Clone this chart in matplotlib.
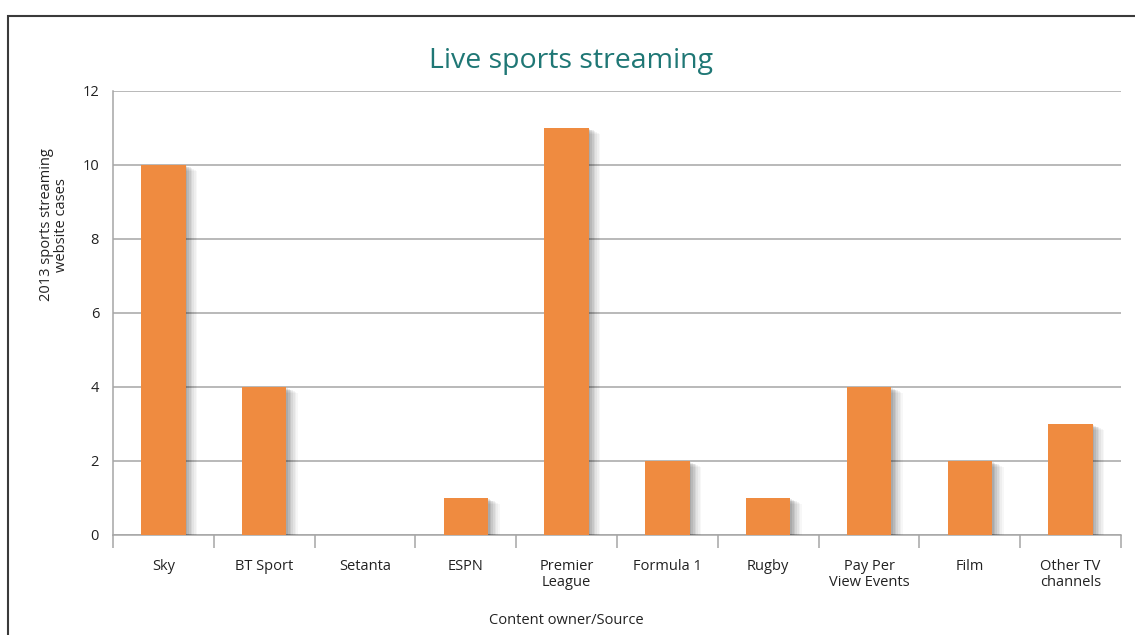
import matplotlib
matplotlib.use("Agg")
import matplotlib.pyplot as plt
import matplotlib.patheffects as pe
from matplotlib.patches import Rectangle

categories = ["Sky", "BT Sport", "Setanta", "ESPN", "Premier\nLeague", "Formula 1",
              "Rugby", "Pay Per\nView Events", "Film", "Other TV\nchannels"]
values = [10, 4, 0, 1, 11, 2, 1, 4, 2, 3]
yticks = [0, 2, 4, 6, 8, 10, 12]

plt.rcParams['font.family'] = ['Open Sans', 'DejaVu Sans']

fig = plt.figure(figsize=(11.35, 6.35), dpi=100)
W, H = 1135, 635
ax = fig.add_axes([113 / W, 1 - 535 / H, (1121 - 113) / W, (535 - 91) / H])

# outer frame
fig.patches.append(Rectangle((8 / W, -0.1), 1.2, 1 - 16 / H + 0.1, transform=fig.transFigure,
                             fill=False, edgecolor='#3a3a3a', linewidth=1.5, zorder=0))

x = list(range(len(categories)))
shadow = []
for d, a in [(14, 0.03), (12, 0.035), (10, 0.045), (8, 0.055), (6, 0.065), (4, 0.075), (2, 0.08)]:
    shadow.append(pe.SimplePatchShadow(offset=(d * 0.6, -d * 0.3), shadow_rgbFace='black', alpha=a))
shadow.append(pe.Normal())
bars = ax.bar(x, values, width=0.44, color='#ef8b40', zorder=3)
for b in bars:
    b.set_path_effects(shadow)

ax.set_xlim(-0.5, len(categories) - 0.5)
ax.set_ylim(0, 12)
ax.set_yticks(yticks)
ax.set_yticklabels([str(v) for v in yticks], fontsize=10.5, color='#222222')
ax.tick_params(axis='y', length=0, pad=10)
ax.yaxis.grid(True, color='#a6a6a6', linewidth=1.1, zorder=0)
ax.set_axisbelow(True)

ax.set_xticks(x)
ax.set_xticklabels(categories, fontsize=10.5, color='#222222', linespacing=1.1)
ax.tick_params(axis='x', length=0, pad=17)
ax.set_xticks([i - 0.5 for i in range(len(categories) + 1)], minor=True)
ax.tick_params(axis='x', which='minor', length=9, width=1.1, color='#a6a6a6')

for s in ['top', 'right']:
    ax.spines[s].set_visible(False)
ax.spines['left'].set_color('#a6a6a6')
ax.spines['bottom'].set_color('#a6a6a6')
ax.spines['left'].set_linewidth(1.1)
ax.spines['bottom'].set_linewidth(1.1)

fig.text(571 / W, 1 - 61 / H, "Live sports streaming", fontsize=20.5, color='#1f7775',
         ha='center', va='center')
fig.text(54 / W, 1 - 225 / H, "2013 sports streaming\nwebsite cases", fontsize=10.5,
         color='#222222', rotation=90, ha='center', va='center', linespacing=0.95)
fig.text(566 / W, 1 - 620 / H, "Content owner/Source", fontsize=10.5, color='#222222',
         ha='center', va='center')

fig.savefig("out.png", dpi=100)
